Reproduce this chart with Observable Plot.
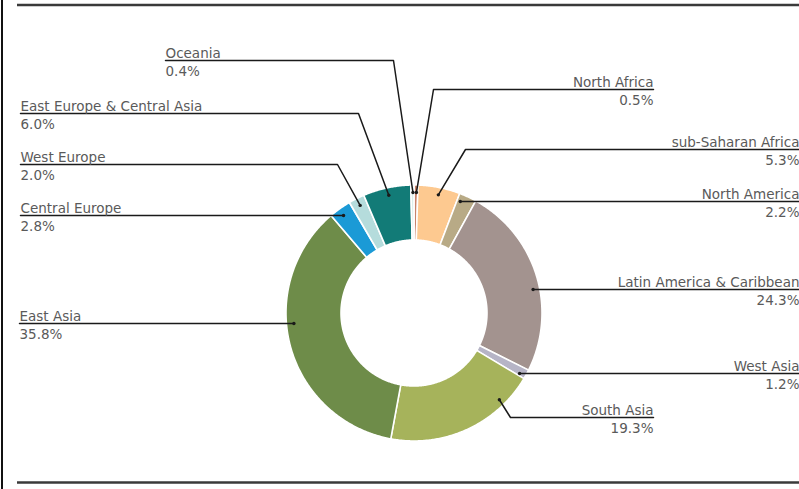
<!DOCTYPE html>
<html><head><meta charset="utf-8">
<script src="https://cdn.jsdelivr.net/npm/d3@7"></script>
<script src="https://cdn.jsdelivr.net/npm/@observablehq/plot@0.6"></script>
<style>body{margin:0;background:#fff;} #chart svg{display:block;}</style>
</head><body><div id="chart"></div>
<script>
// ---- data (clockwise from 12 o'clock) ----
const regions = ["North Africa","sub-Saharan Africa","North America","Latin America & Caribbean","West Asia","South Asia","East Asia","Central Europe","West Europe","East Europe & Central Asia","Oceania"];
const shares = [0.5, 5.3, 2.2, 24.3, 1.2, 19.3, 35.8, 2.8, 2.0, 6.0, 0.4];
const colors = ["#c8836b","#fdc990","#b8aa86","#a3938f","#b6b4c6","#a6b35b","#6e8c49","#1b9ad6","#b5dcdc","#127b77","#dcefeb"];

// ---- label layout ----
const labelSide  = ["right","right","right","right","right","right","left","left","left","left","left"];
const labelLineY = [89, 149, 201, 289, 373, 417, 323, 215, 164, 113, 60];
const labelTextX = [653, 799, 799, 799, 799, 653, 19, 20, 20, 20, 165];
const labelElbowX = [433, 465, null, null, null, 510, null, null, 337, 358, 393];
const leaderPos = [0.5, 0.5, 0.5, 0.5, 0.5, 0.21, 0.5, 0.5, 0.5, 0.5, 0.5];

const W = 799, H = 489;
const cx = 414, cy = 313, R = 128, r0 = 73, rDot = 121;

const total = d3.sum(shares);
let cum = 0;
const slices = regions.map((name, i) => {
  const a0 = cum / total * 2 * Math.PI;
  cum += shares[i];
  const a1 = cum / total * 2 * Math.PI;
  return {name, value: shares[i], color: colors[i], a0, a1};
});

// ring polygons sampled along each slice
const ring = [];
for (const s of slices) {
  const n = Math.max(2, Math.ceil((s.a1 - s.a0) / (Math.PI / 360)));
  for (let k = 0; k <= n; k++) {
    const a = s.a0 + (s.a1 - s.a0) * k / n;
    ring.push({
      name: s.name, color: s.color,
      xi: cx + r0 * Math.sin(a), yi: cy - r0 * Math.cos(a),
      xo: cx + R * Math.sin(a), yo: cy - R * Math.cos(a)
    });
  }
}

// leaders + labels
const leaders = [], dots = [], labels = [];
slices.forEach((s, i) => {
  const side = labelSide[i], ly = labelLineY[i], tx = labelTextX[i];
  let dx, dy;
  const pts = [[tx, ly]];
  if (labelElbowX[i] == null) {
    const d = ly - cy;
    dx = cx + (side === "right" ? 1 : -1) * Math.sqrt(rDot * rDot - d * d);
    dy = ly;
  } else {
    const a = s.a0 + (s.a1 - s.a0) * leaderPos[i];
    dx = cx + rDot * Math.sin(a); dy = cy - rDot * Math.cos(a);
    pts.push([labelElbowX[i], ly]);
  }
  pts.push([dx, dy]);
  pts.forEach(p => leaders.push({name: s.name, x: p[0], y: p[1]}));
  dots.push({x: dx, y: dy});
  labels.push({name: s.name, pct: s.value.toFixed(1) + "%", side, x: tx, y: ly});
});

const left = labels.filter(d => d.side === "left");
const right = labels.filter(d => d.side === "right");
const txt = {fill: "#5a5a5a", fontSize: 13.5};

const chart = Plot.plot({
  width: W, height: H, margin: 0,
  x: {domain: [0, W], range: [0, W], axis: null},
  y: {domain: [0, H], range: [0, H], axis: null},
  color: {type: "identity"},
  style: {fontFamily: "'DejaVu Sans', sans-serif", background: "#fff"},
  marks: [
    Plot.ruleY([4.5], {x1: 17, x2: W, stroke: "#3a3a3a", strokeWidth: 2.5}),
    Plot.ruleY([482], {x1: 17, x2: W, stroke: "#3a3a3a", strokeWidth: 2.5}),
    Plot.ruleX([1.5], {y1: 0, y2: H, stroke: "#111", strokeWidth: 2}),
    Plot.area(ring, {x1: "xi", y1: "yi", x2: "xo", y2: "yo", z: "name", fill: "color", stroke: "#fff", strokeWidth: 1.6}),
    Plot.line(leaders, {x: "x", y: "y", z: "name", stroke: "#1a1a1a", strokeWidth: 1.5}),
    Plot.dot(dots, {x: "x", y: "y", r: 1.7, fill: "#1a1a1a"}),
    Plot.text(left, {x: "x", y: d => d.y - 3, text: "name", textAnchor: "start", lineAnchor: "bottom", ...txt}),
    Plot.text(left, {x: "x", y: d => d.y + 6, text: "pct", textAnchor: "start", lineAnchor: "top", ...txt}),
    Plot.text(right, {x: "x", y: d => d.y - 3, text: "name", textAnchor: "end", lineAnchor: "bottom", ...txt}),
    Plot.text(right, {x: "x", y: d => d.y + 6, text: "pct", textAnchor: "end", lineAnchor: "top", ...txt})
  ]
});
document.getElementById("chart").appendChild(chart);
</script>
</body></html>
